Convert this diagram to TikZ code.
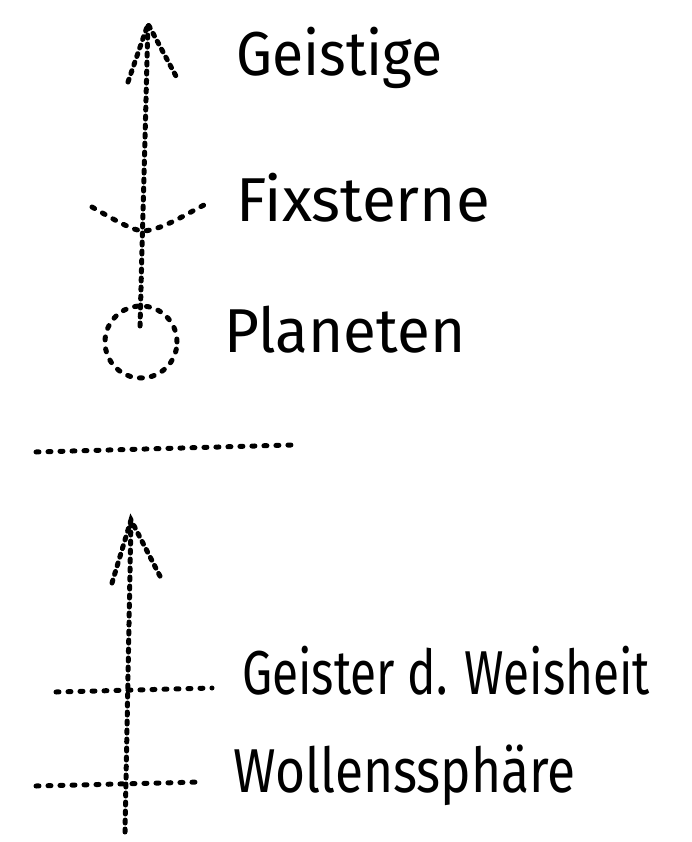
\documentclass[tikz,border=0pt]{standalone}
\usepackage{fontspec}
\usepackage{graphicx}
\setmainfont{Fira Sans}
\usetikzlibrary{positioning, calc}
\newcommand{\handfont}{\fontsize{62}{66}\selectfont}

\begin{document}
\begin{tikzpicture}[x=1pt, y=-1pt,
    hatch/.style={line width=5pt, dash pattern=on 3pt off 6pt, line cap=round},
    hatchwide/.style={line width=5pt, dash pattern=on 3pt off 9pt, line cap=round},
    sphere/.style={font=\handfont, anchor=base west, inner sep=0pt}]
            \useasboundingbox (0, 0) rectangle (692, 842);

            \coordinate (tipA)   at (148, 24);
            \coordinate (wingAL) at (128, 82);
            \coordinate (wingAR) at (177, 78);
            \coordinate (footA)  at (140, 326);
            \coordinate (fixL)   at (92, 207);
            \coordinate (fixM)   at (144, 231);
            \coordinate (fixR)   at (206, 204);
            \coordinate (sepL)   at (36, 452);
            \coordinate (sepR)   at (291, 445);
            \coordinate (tipB)   at (131, 520);
            \coordinate (wingBL) at (112, 583);
            \coordinate (wingBR) at (162, 580);
            \coordinate (footB)  at (125, 832);
            \coordinate (weisL)  at (56, 692);
            \coordinate (weisR)  at (212, 688);
            \coordinate (wolkL)  at (36, 786);
            \coordinate (wolkR)  at (201, 782);

            \node [draw, circle, hatchwide, minimum size=72pt, inner sep=0pt] (planet) at (141, 342) {};

            \draw [hatch] (footA) -- (tipA);
            \draw [hatch] (wingAL) -- (tipA) -- (wingAR);
            \draw [hatchwide] (fixL) .. controls (118, 222) and (134, 231) .. (fixM)
                          .. controls (164, 229) and (186, 214) .. (fixR);
            \draw [hatchwide] (sepL) -- (sepR);
            \draw [hatch] (footB) -- (tipB);
            \draw [hatch] (wingBL) -- (tipB) -- (wingBR);
            \draw [hatchwide] (weisL) -- (weisR);
            \draw [hatchwide] (wolkL) -- (wolkR);

            \node [sphere] (geistige)  at (236, 76)  { \scalebox{0.92}[1]{Geistige} };
            \node [sphere] (fixsterne) at (236, 222) { Fixsterne };
            \node [sphere] (planeten)  at (224, 352) { \scalebox{0.97}[1]{Planeten} };
            \node [sphere] (weisheit)  at (242, 694) { \scalebox{0.77}[1]{Geister d. Weisheit} };
            \node [sphere] (wolken)    at (233, 792) { \scalebox{0.83}[1]{Wollenssphäre} };

        \end{tikzpicture}
\end{document}
